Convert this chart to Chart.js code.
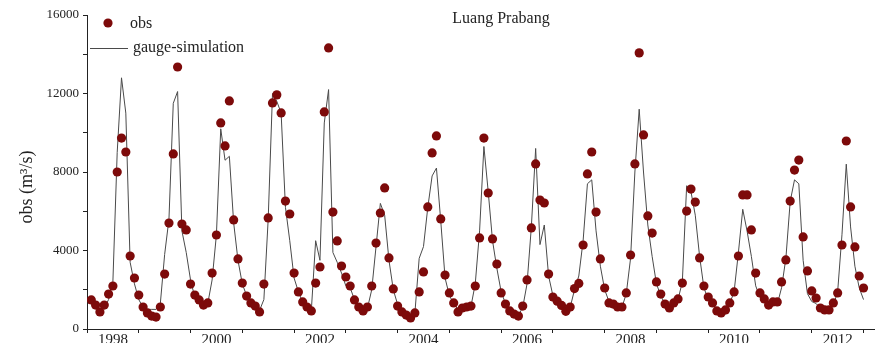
<!DOCTYPE html>
<html>
<head>
<meta charset="utf-8">
<script src="https://cdn.jsdelivr.net/npm/chart.js@4"></script>
<style>
html, body { margin: 0; padding: 0; background: #fff; overflow: hidden; }
#wrap { position: relative; width: 879px; height: 343px; }
</style>
</head>
<body>
<div id="wrap"><canvas id="c-flow"></canvas></div>
<script>
// === DATA (monthly discharge, m3/s, Jan..Dec per row) ===
const startYear = 1998;

const obsFlow = [
    1480, 1220, 870, 1220, 1780, 2190, 8000, 9730, 9020, 3720, 2600, 1730,      // 1998
    1120, 820, 660, 610, 1120, 2800, 5400, 8920, 13350, 5350, 5050, 2290,      // 1999
    1730, 1480, 1220, 1330, 2850, 4790, 10500, 9330, 11620, 5560, 3570, 2340,   // 2000
    1680, 1330, 1170, 870, 2290, 5660, 11520, 11930, 11010, 6520, 5860, 2850,   // 2001
    1890, 1380, 1120, 920, 2340, 3160, 11060, 14320, 5960, 4490, 3210, 2650,    // 2002
    2190, 1480, 1120, 920, 1120, 2190, 4380, 5910, 7190, 3620, 2040, 1170,      // 2003
    870, 710, 560, 820, 1890, 2910, 6220, 8970, 9840, 5610, 2750, 1840,        // 2004
    1330, 870, 1070, 1120, 1170, 2190, 4640, 9730, 6930, 4590, 3310, 1840,      // 2005
    1270, 920, 760, 660, 1170, 2500, 5150, 8410, 6570, 6420, 2800, 1630,        // 2006
    1420, 1200, 900, 1120, 2060, 2320, 4280, 7900, 9020, 5960, 3570, 2090,      // 2007
    1330, 1270, 1120, 1120, 1840, 3770, 8410, 14070, 9890, 5760, 4890, 2400,    // 2008
    1780, 1270, 1070, 1330, 1530, 2340, 6010, 7130, 6470, 3620, 2190, 1630,     // 2009
    1330, 920, 820, 970, 1330, 1890, 3720, 6830, 6830, 5050, 2850, 1840,        // 2010
    1530, 1220, 1380, 1380, 2400, 3520, 6520, 8100, 8610, 4690, 2960, 1940,     // 2011
    1580, 1070, 970, 970, 1330, 1840, 4280, 9580, 6220, 4180, 2700, 2090        // 2012
];

const simFlow = [
    1300, 1050, 950, 1050, 1500, 2400, 9000, 12800, 11000, 3400, 2300, 1500,    // 1998
    1100, 1000, 1000, 1000, 1300, 3800, 5600, 11500, 12100, 5000, 3900, 2500,   // 1999
    1600, 1300, 1150, 1300, 2500, 4800, 10200, 8600, 8800, 5400, 3500, 2300,    // 2000
    1700, 1300, 1100, 950, 1500, 5600, 12000, 11600, 11000, 6200, 4500, 2600,   // 2001
    1900, 1350, 1050, 950, 4500, 3500, 10500, 12200, 3900, 3400, 2850, 2200,    // 2002
    2100, 1500, 1100, 950, 1050, 2000, 4200, 6400, 5800, 3500, 2000, 1250,      // 2003
    900, 700, 600, 800, 3600, 4200, 6200, 7800, 8200, 5500, 2600, 1700,         // 2004
    1300, 1000, 1000, 1050, 1150, 2300, 5000, 9300, 7000, 4500, 3100, 1900,     // 2005
    1300, 950, 800, 700, 1100, 2300, 5200, 9200, 4300, 5300, 2700, 1700,        // 2006
    1350, 1050, 900, 1100, 2000, 2700, 4500, 7400, 7600, 5000, 3200, 2000,      // 2007
    1400, 1200, 1050, 1100, 1800, 3600, 8000, 11200, 8000, 5300, 3700, 2300,    // 2008
    1700, 1250, 1050, 1200, 1500, 2400, 7300, 7000, 5800, 3700, 2100, 1500,     // 2009
    1300, 950, 850, 950, 1300, 1900, 3900, 6100, 5000, 3700, 2200, 1600,        // 2010
    1500, 1150, 1250, 1250, 2100, 3600, 6500, 7600, 7400, 3500, 1800, 1400,     // 2011
    1300, 1050, 950, 950, 1200, 1900, 4800, 8400, 5200, 3200, 2100, 1500        // 2012
];

const yTicks = [0, 4000, 8000, 12000, 16000];
const yearLabels = [1998, 2000, 2002, 2004, 2006, 2008, 2010, 2012];

// month-end dates as decimal years
const monthX = obsFlow.map((_, i) => startYear + (i + 1) / 12);

// === STYLE ===
const SERIF = "'Liberation Serif', 'DejaVu Serif', serif";
const INK = '#222';
const DOT = '#7d0a0a';
const LINE = '#4a4a4a';

// === TEXT / LEGEND PLUGIN ===
const decor = {
    id: 'decor',
    afterDraw(chart) {
        const ctx = chart.ctx;
        const a = chart.chartArea;
        ctx.save();
        ctx.fillStyle = INK;
        ctx.textBaseline = 'middle';

        // legend
        ctx.beginPath();
        ctx.arc(a.left + 21, a.top + 8, 4.6, 0, Math.PI * 2);
        ctx.fillStyle = DOT;
        ctx.fill();
        ctx.fillStyle = INK;
        ctx.font = '16px ' + SERIF;
        ctx.textAlign = 'left';
        ctx.fillText('obs', a.left + 43, a.top + 9);

        ctx.strokeStyle = LINE;
        ctx.lineWidth = 1;
        ctx.beginPath();
        ctx.moveTo(a.left + 3, a.top + 33.5);
        ctx.lineTo(a.left + 41, a.top + 33.5);
        ctx.stroke();
        ctx.fillText('gauge-simulation', a.left + 46, a.top + 33);

        // station name
        ctx.textAlign = 'center';
        ctx.fillText('Luang Prabang', a.left + 414, a.top + 4);

        // y title
        ctx.translate(27, (a.top + a.bottom) / 2 + 15);
        ctx.rotate(-Math.PI / 2);
        ctx.font = '18px ' + SERIF;
        ctx.fillText('obs (m³/s)', 0, 0);
        ctx.restore();
    }
};

// === CHART ===
new Chart(document.getElementById('c-flow'), {
    type: 'scatter',
    data: {
        datasets: [
            {
                label: 'obs',
                data: monthX.map((x, i) => ({ x, y: obsFlow[i] })),
                showLine: false,
                pointRadius: 4.6,
                pointBackgroundColor: DOT,
                pointBorderWidth: 0
            },
            {
                label: 'gauge-simulation',
                data: monthX.map((x, i) => ({ x, y: simFlow[i] })),
                showLine: true,
                borderColor: LINE,
                borderWidth: 1,
                pointRadius: 0,
                tension: 0
            }
        ]
    },
    options: {
        responsive: true,
        maintainAspectRatio: false,
        animation: false,
        devicePixelRatio: 1,
        layout: { padding: { top: 15, right: 0, left: 0, bottom: 0 } },
        plugins: { legend: { display: false }, tooltip: { enabled: false } },
        scales: {
            x: {
                type: 'linear',
                min: 1998,
                max: 2013.21,
                afterFit: s => { s.height = 14; },
                border: { color: INK, width: 1 },
                grid: {
                    drawOnChartArea: false,
                    tickLength: 4,
                    tickColor: c => Number.isInteger(c.tick && c.tick.value) ? INK : 'rgba(0,0,0,0)'
                },
                ticks: {
                    stepSize: 0.5,
                    autoSkip: false,
                    maxRotation: 0,
                    includeBounds: false,
                    padding: -2,
                    color: INK,
                    font: { family: SERIF, size: 15 },
                    callback: v => yearLabels.includes(v - 0.5) ? String(v - 0.5) : ''
                }
            },
            y: {
                min: 0,
                max: 16000,
                afterFit: s => { s.width = 87; },
                border: { color: INK, width: 1 },
                grid: { drawOnChartArea: false, tickLength: 4, tickColor: INK },
                ticks: {
                    stepSize: 2000,
                    padding: 4,
                    color: INK,
                    font: { family: SERIF, size: 13 },
                    callback: v => yTicks.includes(v) ? String(v) : ''
                }
            }
        }
    },
    plugins: [decor]
});
</script>
</body>
</html>
